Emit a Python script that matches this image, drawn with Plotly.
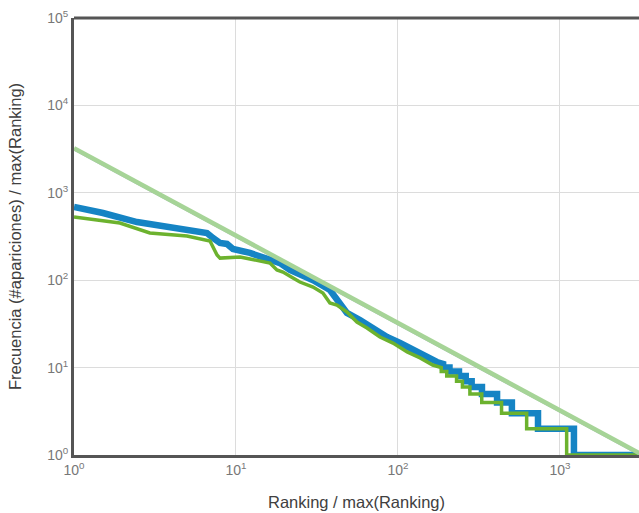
import plotly.graph_objects as go

# ---- data (rank, frequency) ----
blue_rank = [1, 1.51, 2.45, 3.91, 5.74, 6.62, 7.21, 7.96, 8.8, 9.58, 12.2, 15.5, 18.7, 21.5,
             24.8, 29.9, 38.0, 43.9, 48.4, 58.3, 70.1, 85.6, 103, 124, 151, 174,
             190, 190, 208, 208, 238, 238, 262, 262, 285, 285, 330, 330, 409, 409,
             505, 505, 732, 732, 1220, 1220, 3240]
blue_freq = [688, 587, 463, 406, 366, 347, 304, 267, 260, 228, 205, 179, 157, 131,
             117, 100, 77.3, 54.8, 42.2, 35.1, 28.4, 22.4, 19.1, 15.9, 13.2, 11.6,
             11, 10, 10, 9, 9, 8, 8, 7, 7, 6, 6, 5, 5, 4,
             4, 3, 3, 2, 2, 1, 1]

green_rank = [1, 1.92, 2.94, 4.98, 6.91, 7.64, 7.97, 10.6, 12.2, 16.2, 17.9, 19.5, 22.5,
              24.8, 29.9, 34.4, 38.0, 42.0, 48.4, 55.8, 64.4, 77.4, 93.2, 114, 137, 164,
              185, 185, 200, 200, 230, 230, 250, 250, 278, 278, 329, 329, 436, 436,
              623, 623, 1100, 1100, 3240]
green_freq = [529, 451, 347, 321, 281, 194, 179, 184, 175, 157, 131, 124, 106,
              95.3, 83.6, 71.4, 54.8, 52.0, 43.3, 33.2, 28.4, 22.4, 19.1, 15.1, 12.9, 10.7,
              10, 9, 9, 8, 8, 7, 7, 6, 6, 5, 5, 4, 4, 3,
              3, 2, 2, 1, 1]

fit_rank = [1, 3240]
fit_freq = [3240, 1]

x_tickvals = [1, 10, 100, 1000]
x_ticktext = ["10<sup>0</sup>", "10<sup>1</sup>", "10<sup>2</sup>", "10<sup>3</sup>"]
y_tickvals = [1, 10, 100, 1000, 10000, 100000]
y_ticktext = ["10<sup>0</sup>", "10<sup>1</sup>", "10<sup>2</sup>", "10<sup>3</sup>",
              "10<sup>4</sup>", "10<sup>5</sup>"]

BLUE = "#1584c4"
GREEN = "#6cb22e"
FIT = "#a6d497"

fig = go.Figure()
fig.add_trace(go.Scatter(x=blue_rank, y=blue_freq, mode="lines",
                         line=dict(color=BLUE, width=6.5), hoverinfo="skip"))
fig.add_trace(go.Scatter(x=green_rank, y=green_freq, mode="lines",
                         line=dict(color=GREEN, width=3.5), hoverinfo="skip"))
# fit line shadow + line
fig.add_trace(go.Scatter(x=fit_rank, y=[v * 0.965 for v in fit_freq], mode="lines",
                         line=dict(color="rgba(95,120,150,0.55)", width=2), hoverinfo="skip"))
fig.add_trace(go.Scatter(x=fit_rank, y=fit_freq, mode="lines",
                         line=dict(color=FIT, width=4.5), hoverinfo="skip"))

font_family = "Liberation Sans, Arial, sans-serif"

fig.update_layout(
    width=639, height=513,
    margin=dict(l=74, r=0, t=18, b=58),
    paper_bgcolor="white", plot_bgcolor="white",
    showlegend=False,
    font=dict(family=font_family, color="#666666", size=14),
    xaxis=dict(
        type="log", range=[0, 3.488], automargin=False,
        tickvals=x_tickvals, ticktext=x_ticktext,
        showgrid=True, gridcolor="#dcdcdc", gridwidth=1,
        showline=True, linecolor="#555555", linewidth=3,
        zeroline=False, ticks="",
        tickfont=dict(size=14, color="#777777"),
        title=dict(text="Ranking / max(Ranking)", standoff=20,
                   font=dict(size=16.5, color="#404040")),
    ),
    yaxis=dict(
        type="log", range=[0, 5], automargin=False,
        tickvals=y_tickvals, ticktext=y_ticktext,
        showgrid=True, gridcolor="#dcdcdc", gridwidth=1,
        showline=True, linecolor="#555555", linewidth=3,
        zeroline=False, ticks="",
        tickfont=dict(size=14, color="#777777"),
        title=dict(text="Frecuencia (#apariciones) / max(Ranking)", standoff=22,
                   font=dict(size=16.5, color="#404040")),
    ),
    shapes=[dict(type="line", xref="paper", yref="paper", x0=0, x1=1, y0=1, y1=1,
                 line=dict(color="#555555", width=3))],
)

fig.write_html(
    "out.html",
    config={"displayModeBar": False},
    post_script="document.body.style.margin='0';document.body.style.overflow='hidden';",
)
